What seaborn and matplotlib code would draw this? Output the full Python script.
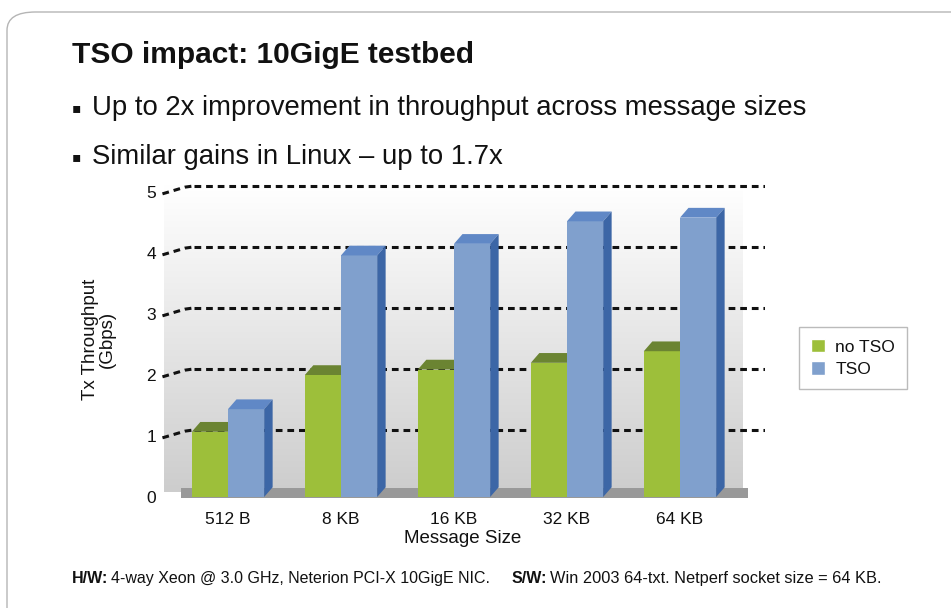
import numpy as np
import pandas as pd
import matplotlib.pyplot as plt
import seaborn as sns
from matplotlib.patches import Polygon, FancyBboxPatch, Rectangle
from matplotlib.lines import Line2D
from matplotlib.colors import LinearSegmentedColormap

sizes = ['512 B', '8 KB', '16 KB', '32 KB', '64 KB']
no_tso = [1.07, 2.0, 2.09, 2.2, 2.39]
tso = [1.44, 3.96, 4.15, 4.52, 4.58]
series = ['no TSO', 'TSO']

df = pd.DataFrame({
    'Message Size': sizes * 2,
    'Throughput': no_tso + tso,
    'Mode': ['no TSO'] * len(sizes) + ['TSO'] * len(sizes),
})

front = {'no TSO': '#9dbf3a', 'TSO': '#80a0cd'}
top = {'no TSO': '#6b8432', 'TSO': '#6088c6'}
side = {'no TSO': '#6b8432', 'TSO': '#3c66a6'}

sns.set_theme(style='white')
plt.rcParams['font.family'] = ['Liberation Sans', 'DejaVu Sans']
plt.rcParams['text.color'] = '#111111'
plt.rcParams['xtick.color'] = '#111111'
plt.rcParams['ytick.color'] = '#111111'
plt.rcParams['axes.labelcolor'] = '#111111'

fig = plt.figure(figsize=(9.51, 6.08), dpi=100)
W, H = 951, 608

# slide card
card = FancyBboxPatch((7 / W, -0.1), 1.2, 1 - 12 / H + 0.1,
                      boxstyle='round,pad=0,rounding_size=0.03',
                      transform=fig.transFigure, facecolor='white',
                      edgecolor='#b5b5b5', lw=1.0, zorder=-10)
fig.patches.append(card)

fig.text(72 / W, 1 - 55 / H, 'TSO impact: 10GigE testbed', fontsize=21.5,
         fontweight='bold', va='center', ha='left')
bullets = ['Up to 2x improvement in throughput across message sizes',
           'Similar gains in Linux \u2013 up to 1.7x']
for i, b in enumerate(bullets):
    yy = 1 - (108 + 49 * i) / H
    fig.text(72 / W, yy, '\u25aa', fontsize=10, va='center', ha='left',
             family=['DejaVu Sans'])
    fig.text(92 / W, yy, b, fontsize=19.8, va='center', ha='left')

# axes: category 0 at x=228px, spacing 113px
x0, step = 228, 113
xmin, xmax = -0.6, 4.75
left_px = x0 + xmin * step
right_px = x0 + xmax * step
y0_px, per = 497, 61.0
ymin, ymax = -0.02, 5.2
bot_px = y0_px - ymin * per
top_px = y0_px - ymax * per
ax = fig.add_axes([left_px / W, 1 - bot_px / H, (right_px - left_px) / W,
                   (bot_px - top_px) / H])
ax.set_facecolor('none')

sns.barplot(data=df, x='Message Size', y='Throughput', hue='Mode',
            palette=front, width=0.64, ax=ax, saturation=1, legend=False,
            zorder=3, edgecolor='none')
ax.set_xlim(xmin, xmax)
ax.set_ylim(ymin, ymax)

# back wall gradient and floor
wall_l, wall_r = -0.57, 4.55
grad = np.linspace(1, 0, 256).reshape(-1, 1)
ax.imshow(grad, extent=(wall_l, wall_r, 0.08, 5.12), aspect='auto',
          cmap=LinearSegmentedColormap.from_list('w', ['#cdcdcd', '#ffffff']),
          vmin=0, vmax=1, zorder=0)
ax.add_patch(Rectangle((wall_l + 0.15, -0.02), wall_r - wall_l - 0.1, 0.16,
                       facecolor='#999999', edgecolor='none', zorder=1))

# gridlines
for v in range(1, 6):
    ax.add_line(Line2D([-0.3, xmax], [v + 0.1, v + 0.1], color='#111111',
                       lw=2.2, ls=(0, (2.2, 1.6)), zorder=2))
    ax.plot([-0.58, -0.38, -0.3], [v - 0.03, v + 0.08, v + 0.1],
            color='#111111', lw=2.2, ls=(0, (2.2, 1.6)), zorder=2)

# 3D faces from the bars
dx, dy = 0.075, 0.16
for bar, mode in zip(ax.patches[:2 * len(sizes)],
                     ['no TSO'] * len(sizes) + ['TSO'] * len(sizes)):
    bx, bw, bh = bar.get_x(), bar.get_width(), bar.get_height()
    z = 3 if mode == 'no TSO' else 4
    bar.set_zorder(z)
    ax.add_patch(Polygon([(bx, bh), (bx + dx, bh + dy), (bx + bw + dx, bh + dy),
                          (bx + bw, bh)], closed=True, facecolor=top[mode],
                         edgecolor='none', zorder=z))
    ax.add_patch(Polygon([(bx + bw, 0), (bx + bw + dx, dy), (bx + bw + dx, bh + dy),
                          (bx + bw, bh)], closed=True, facecolor=side[mode],
                         edgecolor='none', zorder=z - 0.5 if mode == 'no TSO' else z))

for s in ax.spines.values():
    s.set_visible(False)
ax.set_yticks(range(6))
ax.set_yticklabels([str(v) for v in range(6)], fontsize=12.5)
ax.tick_params(axis='y', length=0, pad=3)
ax.tick_params(axis='x', length=0, pad=10, labelsize=12.5)
ax.set_xlabel('Message Size', fontsize=13.5, labelpad=2)
ax.set_ylabel('Tx Throughput\n(Gbps)', fontsize=13.5, labelpad=22,
              linespacing=1.0)

handles = [Rectangle((0, 0), 1, 1, facecolor=front[m]) for m in series]
leg = fig.legend(handles, series, loc='upper left',
                 bbox_to_anchor=(790 / W, 1 - 318 / H), fontsize=12.5,
                 frameon=True, fancybox=False, edgecolor='#aaaaaa',
                 handlelength=0.8, handleheight=0.8, handletextpad=0.6,
                 borderpad=0.7, labelspacing=0.4)
leg.get_frame().set_linewidth(1.0)

fy = 1 - 583 / H
fig.text(72 / W, fy, 'H/W:', fontsize=11.5, fontweight='bold', va='baseline')
fig.text(111 / W, fy, '4-way Xeon @ 3.0 GHz, Neterion PCI-X 10GigE NIC.',
         fontsize=11.5, va='baseline')
fig.text(512 / W, fy, 'S/W:', fontsize=11.5, fontweight='bold', va='baseline')
fig.text(550 / W, fy, 'Win 2003 64-txt. Netperf socket size = 64 KB.',
         fontsize=11.8, va='baseline')

fig.savefig('out.png', dpi=100)
